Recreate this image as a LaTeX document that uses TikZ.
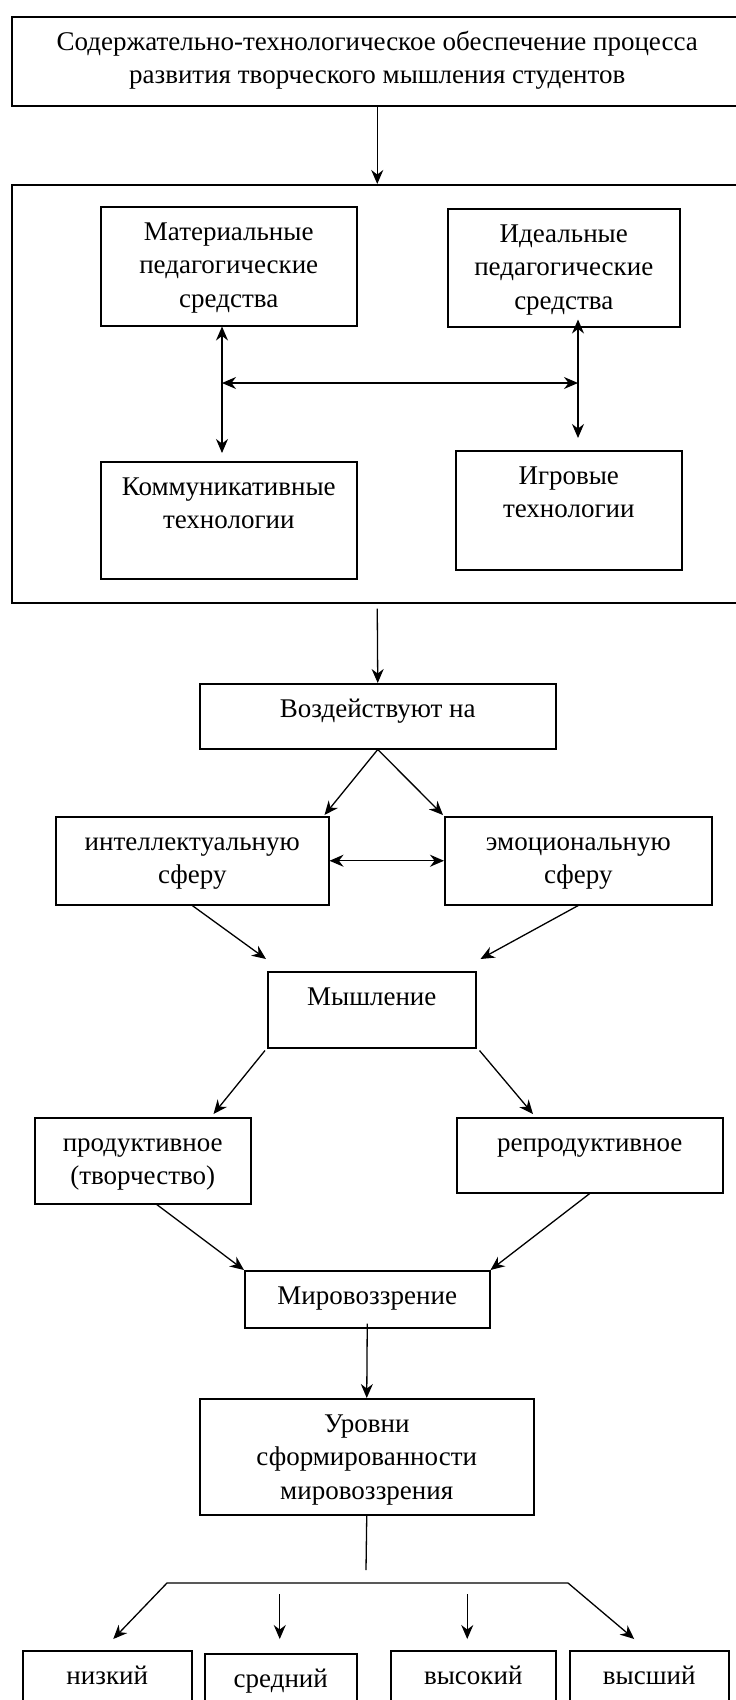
\documentclass[tikz,border=0pt]{standalone}
\usepackage{fontspec}
\setmainfont{Liberation Serif}
\usetikzlibrary{arrows.meta,positioning,calc}
\tikzset{
  box/.style={draw,line width=1.5pt,inner sep=0pt,anchor=north west},
  arr/.style={-{Stealth[length=14pt,width=12pt]},line width=1.3pt},
  darr/.style={{Stealth[length=14pt,width=12pt]}-{Stealth[length=14pt,width=12pt]},line width=1.3pt},
  ln/.style={line width=1.3pt}
}
% box text: width, height, lines
\newcommand{\bx}[3]{\parbox[c][#2pt][t]{#1pt}{\centering\vspace*{10pt}\strut #3\par}}

\begin{document}
\begin{tikzpicture}[x=1pt,y=-1pt,every node/.style={font=\fontsize{27}{33.5}\selectfont}]
  \useasboundingbox (0,0) rectangle (736,1700);
  \clip (0,0) rectangle (736,1700);
  \fill[white] (0,0) rectangle (736,1700);

  \node[box] (top) at (11,16) {\bx{731}{89}{Содержательно-технологическое обеспечение процесса\\развития творческого мышления студентов}};
  \node[box,minimum width=731pt,minimum height=418pt] (frame) at (11,184) {};

  \node[box] (mat) at (100,206) {\bx{256}{119}{Материальные\\педагогические\\средства}};
  \node[box] (ideal) at (447,208) {\bx{232}{118}{Идеальные\\педагогические\\средства}};
  \node[box] (kom) at (100,461) {\bx{256}{117}{Коммуникативные\\технологии}};
  \node[box] (igr) at (455,450) {\bx{226}{119}{Игровые\\технологии}};

  \node[box] (vozd) at (199,683) {\bx{356}{65}{Воздействуют на}};
  \node[box] (intel) at (55,816) {\bx{273}{88}{интеллектуальную\\сферу}};
  \node[box] (emo) at (444,816) {\bx{267}{88}{эмоциональную\\сферу}};
  \node[box] (mysh) at (267,971) {\bx{208}{76}{Мышление}};
  \node[box] (prod) at (34,1117) {\bx{216}{86}{продуктивное\\(творчество)}};
  \node[box] (repr) at (456,1117) {\bx{266}{75}{репродуктивное}};
  \node[box] (mir) at (244,1270) {\bx{245}{57}{Мировоззрение}};
  \node[box] (urov) at (199,1398) {\bx{334}{116}{Уровни\\сформированности\\мировоззрения}};

  \node[box] (nizk) at (22,1650) {\bx{169}{80}{низкий}};
  \node[box] (sred) at (204,1653) {\bx{152}{80}{средний}};
  \node[box] (vys) at (390,1650) {\bx{165}{80}{высокий}};
  \node[box] (vysh) at (569,1650) {\bx{159}{80}{высший}};

  \coordinate (jl) at (222,383);
  \coordinate (jr) at (578,383);
  \coordinate (stem) at (366,1570);
  \coordinate (bl) at (167,1583);
  \coordinate (br) at (568,1583);

  \draw[arr] (top.south) -- (frame.north);
  \draw[darr] (mat.south -| jl) -- ($(kom.north -| jl)+(0,-8)$);
  \draw[darr] (jl) -- (jr);
  \draw[darr] ($(ideal.south -| jr)+(0,-8)$) -- ($(igr.north -| jr)+(0,-12)$);

  \draw[arr] ($(frame.south)+(0,5)$) -- (vozd.north);
  \draw[arr] (vozd.south) -- ($(intel.north east)+(-5,-1)$);
  \draw[arr] (vozd.south) -- ($(emo.north west)+(-1,-1)$);
  \draw[darr] (intel.east) -- (emo.west);
  \draw[arr] (intel.south) -- ($(mysh.north west)+(-1,-12)$);
  \draw[arr] (emo.south) -- ($(mysh.north east)+(4,-12)$);
  \draw[arr] ($(mysh.south west)+(-2,2)$) -- ($(prod.north east)+(-38,-3)$);
  \draw[arr] ($(mysh.south east)+(3,2)$) -- ($(repr.north west)+(77,-3)$);
  \draw[arr] ($(prod.south)+(14,0)$) -- (mir.north west);
  \draw[arr] (repr.south) -- (mir.north east);
  \draw[arr] ($(mir.south)+(0,-5)$) -- (urov.north);

  \draw[ln] (urov.south) -- (stem);
  \draw[darr] ($(nizk.north)+(6,-11)$) -- (bl) -- (br) -- ($(vysh.north)+(-15,-11)$);
  \draw[arr] ($(sred.north)+(-1,-59)$) -- ($(sred.north)+(-1,-14)$);
  \draw[arr] ($(vys.north)+(-6,-56)$) -- ($(vys.north)+(-6,-11)$);
\end{tikzpicture}
\end{document}
